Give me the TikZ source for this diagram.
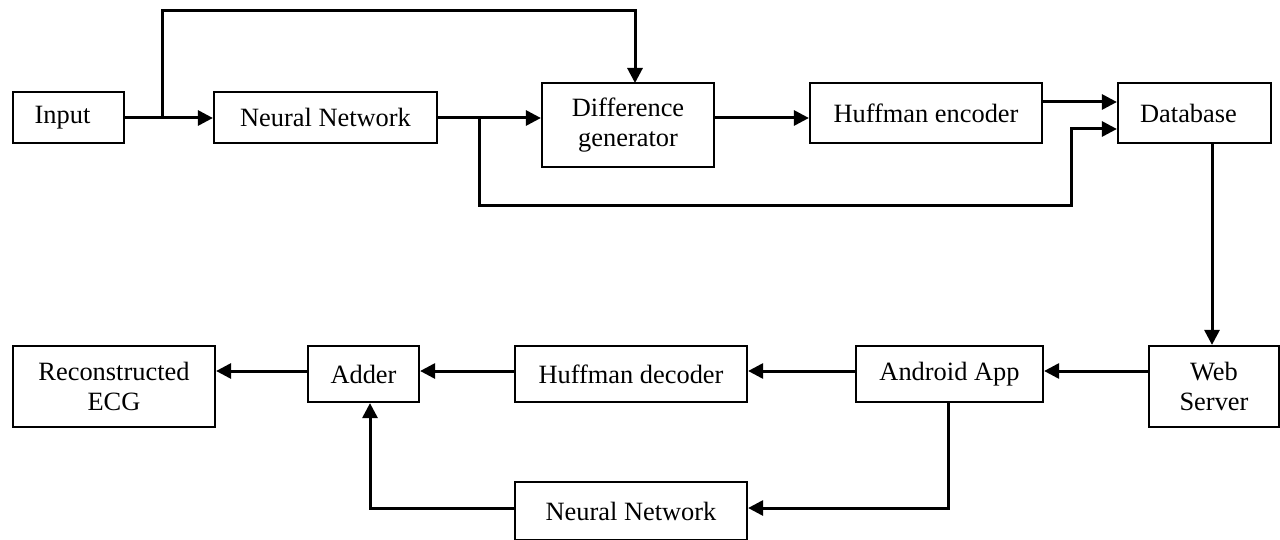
\documentclass[tikz,border=0pt]{standalone}
\usepackage{fontspec}
\setmainfont{Liberation Serif}
\usetikzlibrary{arrows.meta}
\begin{document}
\begin{tikzpicture}[x=1pt,y=-1pt,
  box/.style={draw,line width=2.2pt,rectangle,inner sep=0pt,align=center,
    font=\fontsize{26.4}{30}\selectfont},
  conn/.style={line width=3pt,-{Triangle[length=15pt,width=15pt]}},
  wire/.style={line width=3pt}]
\useasboundingbox (0,0) rectangle (1280,540);
\node[box,minimum width=111pt,minimum height=51pt] (in) at (68.5,117.5) {Input\hspace{12pt}};
\node[box,minimum width=223pt,minimum height=51pt] (nn1) at (325.5,117.5) {Neural Network};
\node[box,minimum width=172pt,minimum height=84pt] (dg) at (628,125) {Difference\\generator};
\node[box,minimum width=232pt,minimum height=60pt] (he) at (926,113) {Huffman encoder};
\node[box,minimum width=153pt,minimum height=60pt] (db) at (1194.5,113) {Database\hspace{12pt}};
\node[box,minimum width=130pt,minimum height=81pt] (ws) at (1214,386.5) {Web\\Server};
\node[box,minimum width=187pt,minimum height=56pt] (aa) at (949.5,374) {Android App};
\node[box,minimum width=232pt,minimum height=56pt] (hd) at (631,374) {Huffman decoder};
\node[box,minimum width=111pt,minimum height=56pt] (ad) at (363.5,374) {Adder};
\node[box,minimum width=202pt,minimum height=81pt] (re) at (114,386.5) {Reconstructed\\ECG};
\node[box,minimum width=232pt,minimum height=58pt] (nn2) at (631,511) {Neural Network};
\coordinate (b1) at (162,118);
\coordinate (b2) at (479,118);
% top row
\draw[conn] (in.east |- b1) -- (nn1.west |- b1);
\draw[conn] (b1) -- (162,11) -- (635,11) -- (635,83);
\draw[conn] (nn1.east |- b1) -- (dg.west |- b1);
\draw[conn] (dg.east |- b1) -- (he.west |- b1);
\draw[conn] (he.east |- 0,102) -- (db.west |- 0,102);
\draw[conn] (b2) -- (479,206) -- (1071,206) -- (1071,129) -- (db.west |- 0,129);
\draw[conn] (db.south -| 1212,0) -- (ws.north -| 1212,0);
% bottom row
\draw[conn] (ws.west |- 0,371) -- (aa.east |- 0,371);
\draw[conn] (aa.west |- 0,371) -- (hd.east |- 0,371);
\draw[conn] (hd.west |- 0,371) -- (ad.east |- 0,371);
\draw[conn] (ad.west |- 0,371) -- (re.east |- 0,371);
\draw[conn] (aa.south -| 948,0) -- (948,508) -- (nn2.east |- 0,508);
\draw[conn] (nn2.west |- 0,508) -- (370,508) -- (ad.south -| 370,0);
\end{tikzpicture}
\end{document}
